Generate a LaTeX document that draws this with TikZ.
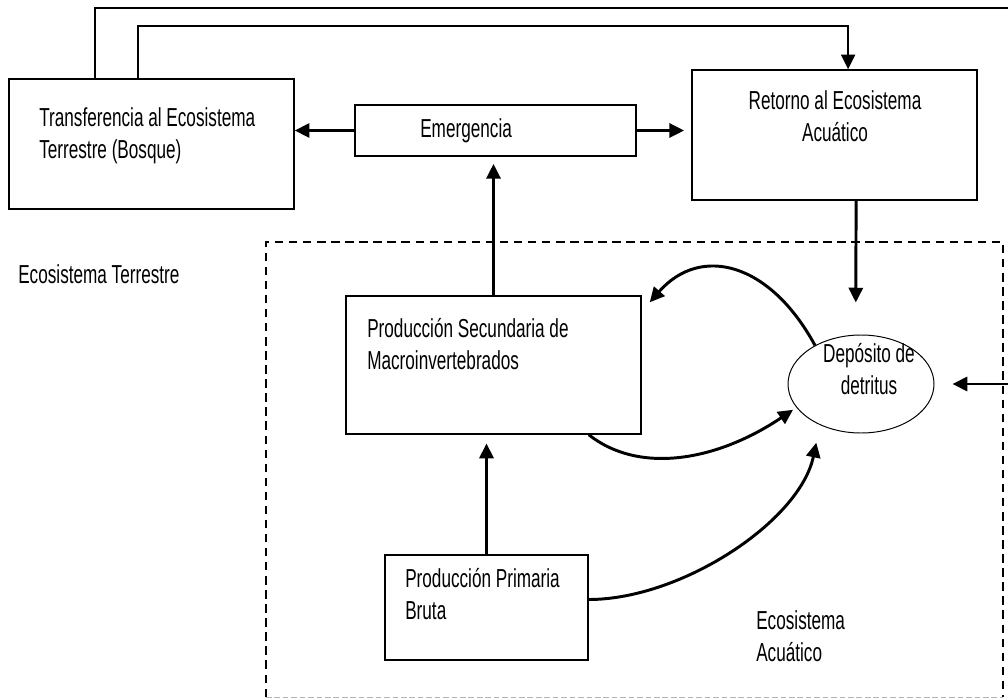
\documentclass[tikz,border=0pt]{standalone}
\usepackage{fontspec}
\setmainfont{Liberation Sans}[FakeStretch=0.66]
\usetikzlibrary{arrows.meta, shapes.geometric, calc}
\tikzset{>={Triangle[length=10.5pt,width=10pt]},
  box/.style={draw, line width=1pt, inner sep=0pt},
  txt/.style={inner sep=0pt, font=\fontsize{18.5}{22.7}\selectfont},
  flow/.style={->, line width=2.1pt},
  wire/.style={->, line width=1.2pt}}

\begin{document}
\begin{tikzpicture}
    \useasboundingbox (0,0) rectangle (25.2,-17.5);
    \coordinate (aqnw) at (6.65,-6.05);
    \coordinate (aqse) at (25.075,-17.425);
    \draw[line width=1.4pt, dash pattern=on 6pt off 4pt] (aqnw |- aqse) -- (aqnw) -| (aqse);
    \draw[gray!60, line width=0.6pt, dash pattern=on 4pt off 2pt] (aqnw |- aqse) -- (aqse);

    \node[box, minimum width=7.125cm, minimum height=3.25cm] (trans) at (3.7875,-3.6) {};
    \node[box, minimum width=7.025cm, minimum height=1.275cm] (emer) at (12.3875,-3.2625) {};
    \node[box, minimum width=7.125cm, minimum height=3.25cm] (ret) at (20.8625,-3.375) {};
    \node[box, minimum width=7.375cm, minimum height=3.45cm] (psec) at (12.3375,-9.125) {};
    \node[box, minimum width=5.075cm, minimum height=2.625cm] (prim) at (12.1625,-15.1875) {};
    \node[draw, ellipse, line width=0.7pt, inner sep=0pt, minimum width=3.65cm, minimum height=2.45cm] (dep) at (21.525,-9.6) {};

    \node[txt, anchor=north west, align=left] (transtxt) at (0.975,-2.675) {Transferencia al Ecosistema\\Terrestre (Bosque)};
    \node[txt, anchor=north west] (emertxt) at (10.5,-2.95) {Emergencia};
    \node[txt, anchor=north, align=center] (rettxt) at (20.875,-2.25) {Retorno al Ecosistema\\Acuático};
    \node[txt, anchor=north west] (terr) at (0.45,-6.6) {Ecosistema Terrestre};
    \node[txt, anchor=north west, align=left] (psectxt) at (9.175,-7.95) {Producción Secundaria de\\Macroinvertebrados};
    \node[txt, anchor=north west, align=left] (primtxt) at (10.125,-14.2) {Producción Primaria\\Bruta};
    \node[txt, anchor=north, align=center] (deptxt) at (21.725,-8.575) {Depósito de\\detritus};
    \node[txt, anchor=north west, align=left] (aqtxt) at (18.9,-15.25) {Ecosistema\\Acuático};

    \draw[flow] (emer.west) -- (emer.west -| trans.east);
    \draw[flow, shorten >=0.18cm] (emer.east) -- (emer.east -| ret.west);
    \draw[flow, shorten >=0.18cm] (psec.north) -- (psec.north |- emer.south);
    \draw[flow, shorten >=0.22cm] (prim.north) -- (prim.north |- psec.south);
    \draw[flow] ($(ret.south)+(0.54,0)$) -- ($(dep.north)+(-0.13,0.8)$);

    \draw[wire] ($(trans.north west)+(3.25,0)$) |- ($(ret.north)+(0.34,1.075)$) -- ($(ret.north)+(0.34,0)$);
    \coordinate (rim) at (25.3,-9.6);
    \draw[line width=1.2pt] ($(trans.north west)+(2.175,0)$) -- ++(0,1.75) -| (rim);
    \draw[flow, shorten >=0.45cm] (rim) -- (dep.east);

    \draw[flow] (dep.140) .. controls +(-1.125,2.075) and +(1.275,1.45) .. ($(psec.north east)+(0.2,-0.175)$);
    \draw[flow, shorten >=0.1cm] ($(psec.south east)+(-1.325,0)$) .. controls +(1.3,-1.025) and +(-1.925,-1.3) .. (dep.200);
    \draw[flow, shorten >=0.45cm] ($(prim.east)+(0,0.2)$) .. controls +(2.325,0) and +(-0.5,-2.4) .. (dep.225);
\end{tikzpicture}
\end{document}
